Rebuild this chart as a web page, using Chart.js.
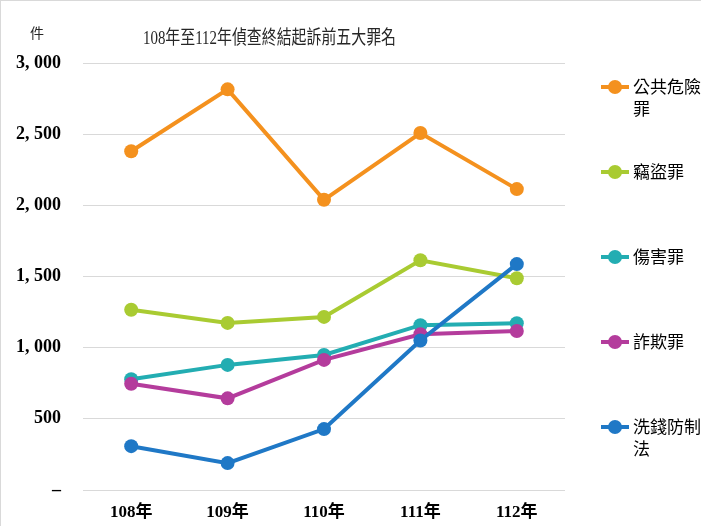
<!DOCTYPE html>
<html>
<head>
<meta charset="utf-8">
<script src="https://cdn.jsdelivr.net/npm/chart.js@4"></script>
<style>
  body { margin: 0; background: #fff; }
  #wrap { width: 700px; height: 525px; border-left: 1px solid #d9d9d9; border-top: 1px solid #d9d9d9; }
</style>
</head>
<body>
<div id="wrap"><canvas id="line-chart" width="700" height="525"></canvas></div>
<script>
let years = ['108年', '109年', '110年', '111年', '112年'];
let gonggong = [2380, 2815, 2039, 2508, 2114];
let qiedao = [1266, 1174, 1216, 1614, 1488];
let shanghai = [778, 879, 949, 1158, 1172];
let zhaqi = [746, 644, 914, 1094, 1117];
let xiqian = [308, 189, 428, 1050, 1587];
let nombres = ['公共危險罪', '竊盜罪', '傷害罪', '詐欺罪', '洗錢防制法'];
let colores = ['#F4911E', '#A9CB32', '#23ADB2', '#B43C9C', '#1F78C6'];
let titulo = '108年至112年偵查終結起訴前五大罪名';

let series = [gonggong, qiedao, shanghai, zhaqi, xiqian];

// titulo y leyenda a mano, la leyenda de chart.js no parte el texto
const extras = {
    id: 'extras',
    afterDraw(chart) {
        const ctx = chart.ctx;
        ctx.save();
        ctx.fillStyle = '#262626';
        ctx.textBaseline = 'middle';
        ctx.textAlign = 'left';
        // titulo angosto, como la fuente original
        ctx.font = '19px "Liberation Serif", "Noto Sans CJK TC"';
        let w = ctx.measureText(titulo).width;
        ctx.save();
        ctx.translate(142, 38);
        ctx.scale(253 / w, 1);
        ctx.fillText(titulo, 0, 0);
        ctx.restore();

        ctx.font = '14px "Noto Sans CJK TC"';
        ctx.textAlign = 'center';
        ctx.fillText('件', 36, 32);

        ctx.textAlign = 'left';
        ctx.font = '17px "Noto Sans CJK TC", sans-serif';
        chart.data.datasets.forEach(function (ds, i) {
            const y = 86 + i * 85;
            ctx.strokeStyle = ds.borderColor;
            ctx.lineWidth = 4;
            ctx.beginPath();
            ctx.moveTo(600, y);
            ctx.lineTo(628, y);
            ctx.stroke();
            ctx.fillStyle = ds.borderColor;
            ctx.beginPath();
            ctx.arc(614, y, 7, 0, Math.PI * 2);
            ctx.fill();
            // partir texto
            let lines = [];
            let cur = '';
            for (const ch of ds.label) {
                if (ctx.measureText(cur + ch).width > 70 && cur) {
                    lines.push(cur);
                    cur = ch;
                } else {
                    cur += ch;
                }
            }
            lines.push(cur);
            ctx.fillStyle = '#000';
            lines.forEach(function (t, k) {
                ctx.fillText(t, 632, y + k * 22);
            });
        });
        ctx.restore();
    }
};

new Chart(document.getElementById('line-chart'), {
    type: 'line',
    data: {
        labels: years,
        datasets: series.map(function (d, i) {
            return {
                label: nombres[i],
                data: d,
                borderColor: colores[i],
                backgroundColor: colores[i],
                pointBackgroundColor: colores[i],
                borderWidth: 4,
                pointRadius: 7,
                pointHoverRadius: 7,
                pointBorderWidth: 0,
                tension: 0,
                fill: false,
                order: 5 - i
            };
        })
    },
    options: {
        responsive: false,
        devicePixelRatio: 1,
        animation: false,
        layout: { padding: { top: 62, right: 136, bottom: 0, left: 0 } },
        plugins: {
            legend: { display: false },
            title: { display: false },
            tooltip: { enabled: false }
        },
        scales: {
            x: {
                offset: true,
                grid: { display: false, drawTicks: false },
                border: { display: false },
                afterFit: function (s) { s.height = 36; },
                ticks: {
                    color: '#000',
                    padding: 12,
                    font: { family: '"Liberation Serif", "Noto Sans CJK TC"', size: 17, weight: 'bold' }
                }
            },
            y: {
                min: 0,
                max: 3000,
                grid: { color: '#d9d9d9', lineWidth: 1, drawTicks: false },
                border: { display: false },
                afterFit: function (s) { s.width = 82; },
                ticks: {
                    stepSize: 500,
                    color: '#000',
                    padding: 22,
                    font: { family: '"Liberation Serif"', size: 18, weight: 'bold' },
                    callback: function (v) {
                        if (v === 0) return '–';
                        return v.toLocaleString('en-US').replace(',', ', ');
                    }
                }
            }
        }
    },
    plugins: [extras]
});
</script>
</body>
</html>
